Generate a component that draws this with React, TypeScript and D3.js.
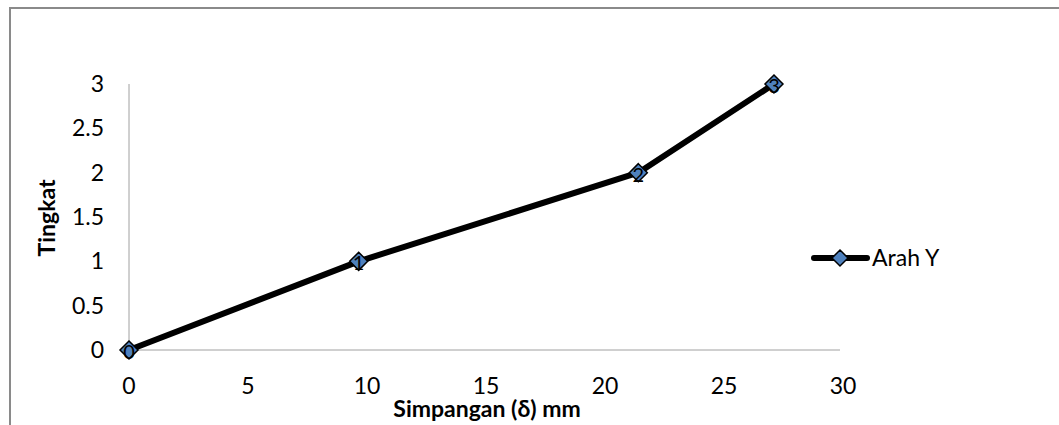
import React from "react";
import * as d3 from "d3";

const seriesName = "Arah Y";
const xValues = [0, 9.65, 21.4, 27.1];
const yValues = [0, 1, 2, 3];
const pointLabels = ["0", "1", "2", "3"];
const xTicks = [0, 5, 10, 15, 20, 25, 30];
const yTicks = [0, 0.5, 1, 1.5, 2, 2.5, 3];
const xTitle = "Simpangan (δ) mm";
const yTitle = "Tingkat";

const W = 1059;
const H = 425;
const FONT = "Lato, 'Open Sans', sans-serif";

export default function App() {
  const x = d3.scaleLinear().domain([0, 30]).range([129, 843]);
  const y = d3.scaleLinear().domain([0, 3]).range([350, 84]);
  const line = d3
    .line<number>()
    .x((_, i) => x(xValues[i]))
    .y((d) => y(d));
  const diamond = (cx: number, cy: number, r: number) =>
    `M${cx},${cy - r}L${cx + r},${cy}L${cx},${cy + r}L${cx - r},${cy}Z`;

  return (
    <svg
      width={W}
      height={H}
      style={{ position: "fixed", left: 0, top: 0, background: "#fff" }}
      fontFamily={FONT}
    >
      <rect x={0} y={0} width={W} height={H} fill="#fff" />
      <rect x={10} y={8} width={1200} height={600} fill="none" stroke="#8a8a8a" strokeWidth={2} />
      {/* axes */}
      <line x1={x(0)} x2={x(0)} y1={y(3)} y2={y(0)} stroke="#a0a0a0" strokeWidth={1} />
      <line x1={x(0)} x2={840} y1={y(0)} y2={y(0)} stroke="#a0a0a0" strokeWidth={1} />
      {yTicks.map((t) => (
        <text key={"y" + t} x={104} y={y(t)} dy="0.35em" textAnchor="end" fontSize={23} fill="#000">
          {String(t)}
        </text>
      ))}
      {xTicks.map((t) => (
        <text key={"x" + t} x={x(t)} y={386} dy="0.35em" textAnchor="middle" fontSize={23} fill="#000">
          {String(t)}
        </text>
      ))}
      <text x={487} y={409} dy="0.35em" textAnchor="middle" fontSize={23} fontWeight="bold" fill="#000">
        {xTitle}
      </text>
      <text
        transform={`translate(47,218) rotate(-90)`}
        dy="0.35em"
        textAnchor="middle"
        fontSize={23}
        fontWeight="bold"
        fill="#000"
      >
        {yTitle}
      </text>
      {/* series */}
      <path d={line(yValues) || ""} fill="none" stroke="#000" strokeWidth={6} strokeLinejoin="round" />
      {yValues.map((v, i) => (
        <g key={"p" + i}>
          <path d={diamond(x(xValues[i]), y(v), 9)} fill="#4f81bd" stroke="#000" strokeWidth={1.5} />
          <text
            x={x(xValues[i])}
            y={y(v) + 2}
            dy="0.35em"
            textAnchor="middle"
            fontSize={20}
            fill="#000"
          >
            {pointLabels[i]}
          </text>
        </g>
      ))}
      {/* legend */}
      <line x1={814} x2={867} y1={258} y2={258} stroke="#000" strokeWidth={6} strokeLinecap="round" />
      <path d={diamond(840, 258, 8)} fill="#4f81bd" stroke="#000" strokeWidth={1.5} />
      <text x={872} y={258} dy="0.35em" fontSize={23} fill="#000">
        {seriesName}
      </text>
    </svg>
  );
}
